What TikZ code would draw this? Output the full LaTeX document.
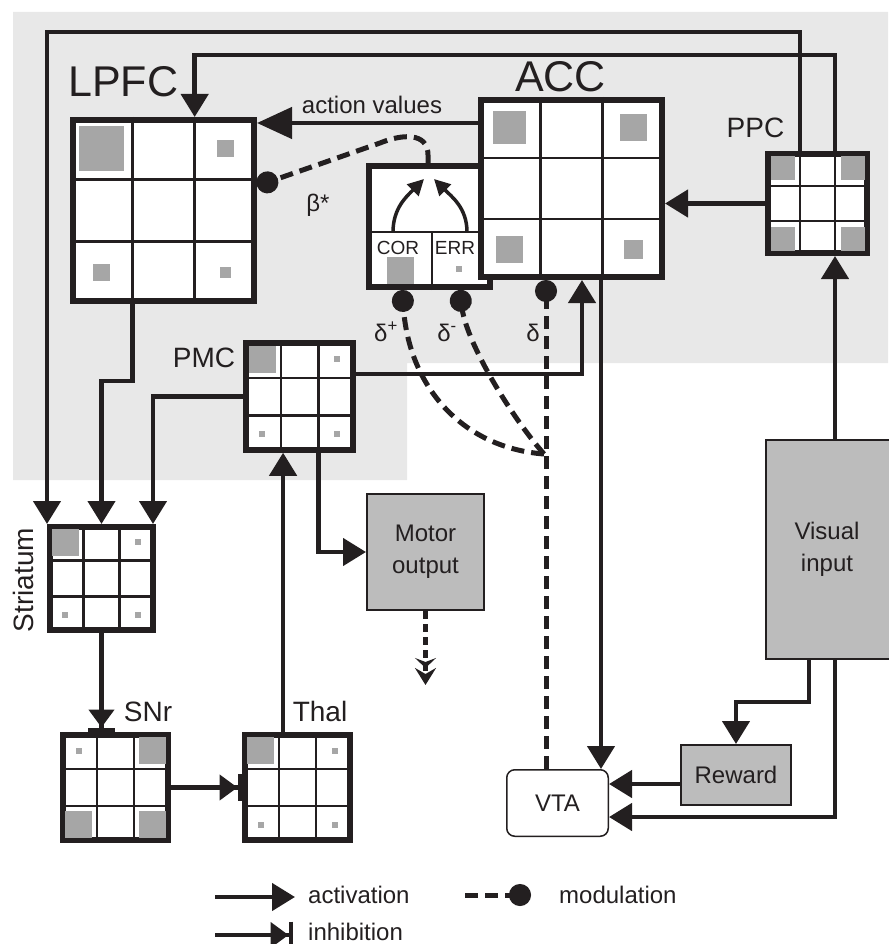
\documentclass[tikz,border=0pt]{standalone}
\usepackage{fontspec}
\setmainfont{Liberation Sans}
\usetikzlibrary{arrows.meta,positioning,calc}
\definecolor{BGInk}{HTML}{231F20}
\definecolor{BGShade}{HTML}{E8E8E8}
\definecolor{BGBox}{HTML}{BCBCBC}
\definecolor{BGUnit}{HTML}{A6A6A6}
\tikzset{
  act/.style={-{Triangle[length=23pt,width=27pt]},BGInk,line width=4.5pt},
  actbig/.style={act,-{Triangle[length=35pt,width=31pt]}},
  inhib/.style={-{Triangle[length=18pt,width=25pt,sep=0pt]Bar[width=27pt]},BGInk,line width=4.5pt},
  modul/.style={-{Circle[length=22pt]},BGInk,line width=5pt,dash pattern=on 13pt off 7pt},
  innerarc/.style={-{Triangle[length=16pt,width=16pt]},BGInk,line width=3.5pt},
  motorflow/.style={-{Stealth[length=10pt,width=21pt,inset=4pt]Stealth[length=17pt,width=21pt,inset=6pt]},
                    BGInk,line width=5pt,dash pattern=on 8pt off 5pt},
  area/.style={draw=BGInk,line width=6pt,fill=white,inner sep=0pt},
  cellline/.style={BGInk,line width=2.5pt},
  unit/.style={fill=BGUnit,inner sep=0pt},
  box/.style={draw=BGInk,line width=2pt,fill=BGBox,align=center,text=BGInk,
              font=\fontsize{24}{32}\selectfont},
  bighead/.style={text=BGInk,inner sep=0pt,font=\fontsize{43}{48}\selectfont},
  areahead/.style={text=BGInk,inner sep=0pt,font=\fontsize{28}{32}\selectfont},
  tag/.style={text=BGInk,inner sep=0pt,font=\fontsize{24}{28}\selectfont},
  cortag/.style={text=BGInk,inner sep=0pt,font=\fontsize{19}{22}\selectfont},
}
\newcommand{\areacells}[1]{%
  \draw[cellline]
    ($(#1.north west)!1/3!(#1.north east)$) -- ($(#1.south west)!1/3!(#1.south east)$)
    ($(#1.north west)!2/3!(#1.north east)$) -- ($(#1.south west)!2/3!(#1.south east)$)
    ($(#1.north west)!1/3!(#1.south west)$) -- ($(#1.north east)!1/3!(#1.south east)$)
    ($(#1.north west)!2/3!(#1.south west)$) -- ($(#1.north east)!2/3!(#1.south east)$);%
}
\newcommand{\actunit}[4]{%
  \pgfmathsetmacro{\unitfx}{(2*#2-1)/6}%
  \pgfmathsetmacro{\unitfy}{(2*#3-1)/6}%
  \path ($(#1.north west)!\unitfx!(#1.north east)$) coordinate (#1-ux)
        ($(#1.north west)!\unitfy!(#1.south west)$) coordinate (#1-uy);
  \node[unit,minimum size=#4pt] (#1-#2#3) at (#1-ux |- #1-uy) {};%
}

\begin{document}
\begin{tikzpicture}[x=1pt,y=-1pt]
    \useasboundingbox (0,0) rectangle (888,944);
    % cortex background
    \fill[BGShade] (13,12) -- (888,12) -- (888,363) -- (407,363) -- (407,480) -- (13,480) -- cycle;

    % COR / ERR box (behind ACC)
    \node[area,minimum width=121pt,minimum height=121pt] (corerr) at (429.5,226.5) {};
    \coordinate (cordiv) at ($(corerr.north west)!0.54!(corerr.south west)$);
    \draw[cellline,line width=2pt] (cordiv) -- (cordiv -| corerr.east);
    \coordinate (cormid) at ($(corerr.south west)!0.52!(corerr.south east)$);
    \draw[cellline,line width=1.5pt] (cormid) -- (cormid |- cordiv);
    \node[cortag,anchor=base] (cortext) at (398,254) {COR};
    \node[cortag,anchor=base] (errtext) at (455,254) {ERR};
    \node[unit,minimum size=27pt] (corunit) at (400,270) {};
    \node[unit,minimum size=6pt] (errunit) at (459,269) {};
    \coordinate (corfoot) at (393,232);
    \coordinate (cortip) at (424,179);
    \coordinate (errfoot) at (467,232);
    \coordinate (errtip) at (434,179);
    \draw[innerarc] (corfoot) to[out=90,in=-135] (cortip);
    \draw[innerarc] (errfoot) to[out=90,in=-45] (errtip);

    % areas
    \node[area,minimum size=181pt] (lpfc) at (163.5,210.5) {};
    \node[area,minimum width=181pt,minimum height=177pt] (acc) at (571.5,188.5) {};
    \node[area,minimum size=99pt] (ppc) at (817.5,203.5) {};
    \node[area,minimum size=106.5pt] (pmc) at (299.5,396.5) {};
    \node[area,minimum size=103pt] (str) at (101.5,578.5) {};
    \node[area,minimum size=105pt] (snr) at (115.5,787.5) {};
    \node[area,minimum size=105pt] (thal) at (297.5,787.5) {};
    \foreach \a in {lpfc,acc,ppc,pmc,str,snr,thal}{\areacells{\a}}
    \foreach \a/\c/\r/\s in {lpfc/1/1/45,lpfc/3/1/17,lpfc/1/3/17,lpfc/3/3/11,
                             acc/1/1/33,acc/3/1/27,acc/1/3/27,acc/3/3/19,
                             ppc/1/1/24,ppc/3/1/24,ppc/1/3/24,ppc/3/3/24,
                             pmc/1/1/27,pmc/3/1/6,pmc/1/3/6,pmc/3/3/6,
                             str/1/1/27,str/3/1/6,str/1/3/6,str/3/3/6,
                             snr/1/1/6,snr/3/1/27,snr/1/3/27,snr/3/3/27,
                             thal/1/1/27,thal/3/1/6,thal/1/3/6,thal/3/3/6}{
      \actunit{\a}{\c}{\r}{\s}
    }

    % boxes
    \node[box,minimum width=117pt,minimum height=116pt] (motor) at (425.5,552) {Motor\\output};
    \node[box,minimum width=130pt,minimum height=219pt] (visual) at (831,549.5) {};
    \node[box,draw=none,fill=none] (visualtext) at (827,549.5) {Visual\\input};
    \node[box,minimum width=110pt,minimum height=60pt] (reward) at (736,775) {Reward};
    \node[box,fill=white,line width=1.5pt,rounded corners=8pt,
          minimum width=101.5pt,minimum height=66.5pt] (vta) at (557.5,803) {VTA};

    % labels
    \node[bighead,anchor=base west] (lpfclabel) at (68,97) {LPFC};
    \node[bighead,anchor=base] (acclabel) at (560.5,92) {ACC};
    \node[areahead,anchor=base] (ppclabel) at (755.5,138) {PPC};
    \node[areahead,anchor=base] (pmclabel) at (204,367) {PMC};
    \node[areahead,anchor=base,rotate=90] (strlabel) at (33,580) {Striatum};
    \node[areahead,anchor=base] (snrlabel) at (148,721) {SNr};
    \node[areahead,anchor=base] (thallabel) at (320,721) {Thal};

    % long loops from PPC
    \coordinate (toprowA) at (0,32);
    \coordinate (toprowB) at (0,55);
    \coordinate (ppcA) at ($(ppc.north west)!1/3!(ppc.north east)$);
    \coordinate (ppcB) at ($(ppc.north west)!2/3!(ppc.north east)$);
    \draw[act] (ppcA) -- (ppcA |- toprowA) -| (str.north west);
    \draw[act] (ppcB) -- (ppcB |- toprowB) -| ($(lpfc.north west)!2/3!(lpfc.north east)$);

    % action values and beta
    \coordinate (avrow) at (0,123);
    \draw[actbig] (acc.west |- avrow) -- (lpfc.east |- avrow);
    \node[tag,anchor=base] (avlabel) at (372,114) {action values};
    \coordinate (betafoot) at ($(corerr.north)+(-1.5,0)$);
    \coordinate (betaend) at ($(lpfc.east)+(0,-24.5)$);
    \draw[modul] (betafoot) -- ++(0,-8) .. controls +(0,-23) and +(22,-9) .. ++(-48,-12) -- (betaend);
    \node[tag,anchor=base] (betalabel) at (318,211) {β*};

    % cortex
    \draw[act] (ppc.west) -- (ppc.west -| acc.east);
    \coordinate (pmcrow) at ($(pmc.north east)!0.3!(pmc.south east)$);
    \coordinate (accin) at ($(acc.south)+(10.5,0)$);
    \draw[act] (pmcrow) -| (accin);
    \coordinate (lpfcfoot) at ($(lpfc.south west)!1/3!(lpfc.south east)$);
    \coordinate (strrow) at (0,381);
    \draw[act] (lpfcfoot) -- (lpfcfoot |- strrow) -| (str.north);
    \draw[act] (pmc.west) -| ($(str.north east)+(-3,0)$);
    \coordinate (pmcfoot) at ($(pmc.south west)!2/3!(pmc.south east)$);
    \draw[act] (pmcfoot) |- (motor.west);
    \coordinate (motorgoal) at ($(motor.south)+(0,74)$);
    \draw[motorflow] (motor.south) -- (motorgoal);

    % basal ganglia
    \draw[inhib] (str.south) -- (str.south |- snr.north);
    \draw[inhib] (snr.east) -- (thal.west);
    \coordinate (thalhead) at ($(thal.north west)!0.37!(thal.north east)$);
    \draw[act] (thalhead) -- (thalhead |- pmc.south);

    % visual input, reward, VTA
    \draw[act] (ppcB |- visual.north) -- (ppcB |- ppc.south);
    \coordinate (visfootA) at ($(visual.south west)+(44,0)$);
    \coordinate (rewrow) at (0,702);
    \draw[act] (visfootA) -- (visfootA |- rewrow) -| (reward.north);
    \coordinate (vtarowA) at ($(vta.east)+(0,-19)$);
    \coordinate (vtarowB) at ($(vta.east)+(0,14)$);
    \draw[act] (reward.west |- vtarowA) -- (vtarowA);
    \draw[act] (ppcB |- visual.south) |- (vtarowB);
    \coordinate (accout) at ($(acc.south)+(29.5,0)$);
    \draw[act] (accout) -- (accout |- vta.north);

    % dopamine signals
    \coordinate (deltax) at ($(acc.south)+(-25.5,0)$);
    \draw[modul] (deltax |- vta.north) -- (deltax);
    \coordinate (deltajoin) at (544,454);
    \coordinate (corplus) at ($(corerr.south)+(-27.5,0)$);
    \coordinate (corminus) at ($(corerr.south)+(29.5,0)$);
    \draw[modul] (deltajoin) .. controls (465,448) and (410,390) .. (corplus);
    \draw[modul] (deltajoin) .. controls (510,415) and (468,345) .. (corminus);
    \node[tag,anchor=base] (dplus) at (386,341) {δ\textsuperscript{+}};
    \node[tag,anchor=base] (dminus) at (447,341) {δ\textsuperscript{-}};
    \node[tag,anchor=base] (dzero) at (533,341) {δ};

    % legend
    \coordinate (legA) at (215,897);
    \coordinate (legAend) at (295,897);
    \draw[act] (legA) -- (legAend);
    \node[tag,anchor=base west] (legAtext) at (308,903) {activation};
    \coordinate (legI) at (215,935);
    \coordinate (legIend) at (293,935);
    \draw[inhib] (legI) -- (legIend);
    \node[tag,anchor=base west] (legItext) at (308,940) {inhibition};
    \coordinate (legM) at (465,895);
    \coordinate (legMend) at (531,895);
    \draw[modul] (legM) -- (legMend);
    \node[tag,anchor=base west] (legMtext) at (559,903) {modulation};
  \end{tikzpicture}
\end{document}
